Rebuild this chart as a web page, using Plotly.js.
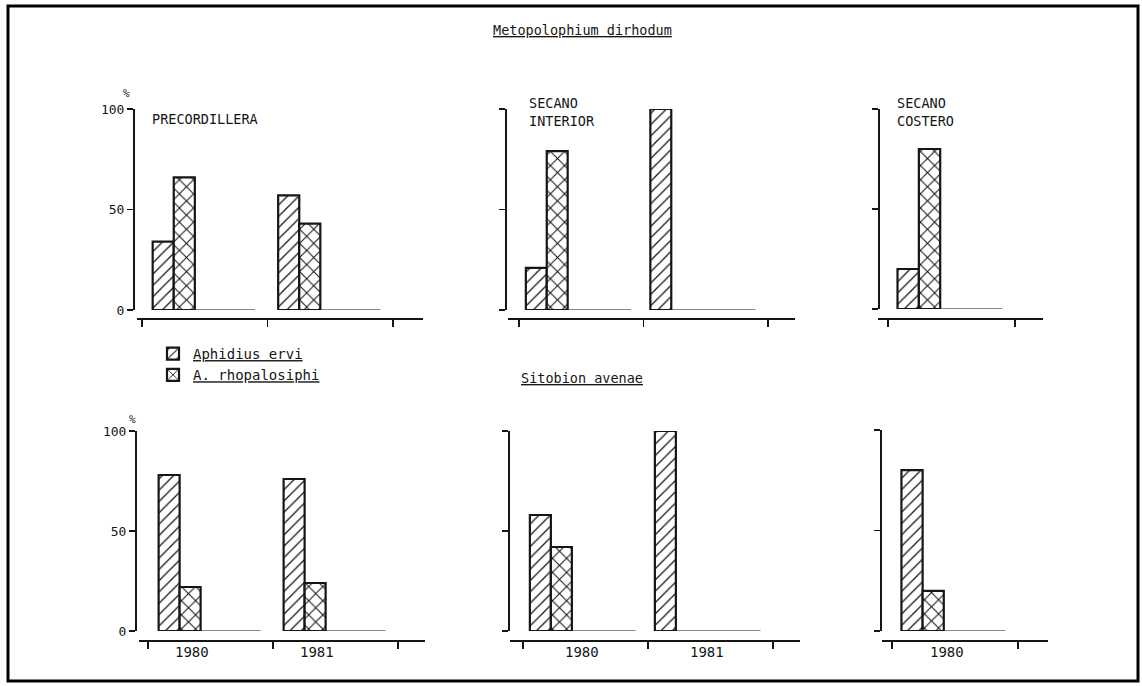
<!DOCTYPE html>
<html>
<head>
<meta charset="utf-8">
<script src="https://cdn.plot.ly/plotly-3.0.1.min.js"></script>
<style>html,body{margin:0;padding:0;background:#fff;}#chart{width:1142px;height:686px;}</style>
</head>
<body>
<div id="chart"></div>
<script>
// ---- data ----
const aphids = ['Metopolophium dirhodum', 'Sitobion avenae'];
const species = ['Aphidius ervi', 'A. rhopalosiphi'];
const regions = ['PRECORDILLERA', 'SECANO INTERIOR', 'SECANO COSTERO'];
const regionYears = [['1980', '1981'], ['1980', '1981'], ['1980']];
const dirhodumErvi = [[34, 57], [21, 100], [20]];
const dirhodumRhopalosiphi = [[66, 43], [79, 0], [80]];
const avenaeErvi = [[78, 76], [58, 100], [80]];
const avenaeRhopalosiphi = [[22, 24], [42, 0], [20]];
const yTicks = [0, 50, 100];
const yTickLabels = ['0', '50', '100'];

// ---- styling / geometry ----
const W = 1142, H = 686;
const px = x => x / W;
const py = y => 1 - y / H;
const FONT = 'DejaVu Sans Mono, monospace';
const INK = '#161616';

const geom = [
  {a: 137, b: 423, t0: 142, s: 125.5, yAx: 133, yTop: 109, yBot: 310, xAxY: 318},
  {a: 508, b: 795, t0: 519, s: 124.5, yAx: 505, yTop: 109, yBot: 310, xAxY: 318},
  {a: 878, b: 1043, t0: 888, s: 127, yAx: 878, yTop: 109, yBot: 309, xAxY: 318},
  {a: 139, b: 425, t0: 148, s: 125, yAx: 135, yTop: 431, yBot: 631, xAxY: 640},
  {a: 510, b: 800, t0: 523, s: 125, yAx: 508, yTop: 431, yBot: 631, xAxY: 640},
  {a: 882, b: 1048, t0: 892, s: 126, yAx: 880, yTop: 430, yBot: 631, xAxY: 640}
];
const barOffset = [0.085, 0.055, 0.075];
const barWidth = 0.168;
const baseEnd = 0.9;
const yearLabelOffset = [0.35, 0.47, 0.44];

const patterns = [
  {shape: '/', fgcolor: INK, bgcolor: '#fff', size: 8, solidity: 0.16},
  {shape: 'x', fgcolor: INK, bgcolor: '#fff', size: 10, solidity: 0.2}
];

const traces = [];
const layout = {
  width: W, height: H,
  margin: {l: 0, r: 0, t: 0, b: 0},
  paper_bgcolor: '#fff', plot_bgcolor: 'rgba(0,0,0,0)',
  barmode: 'overlay',
  showlegend: true,
  legend: {
    x: px(153), y: py(338), xanchor: 'left', yanchor: 'top',
    bgcolor: 'rgba(0,0,0,0)', borderwidth: 0, tracegroupgap: 0,
    font: {family: FONT, size: 14, color: INK, lineposition: 'under'},
    traceorder: 'normal'
  },
  annotations: [],
  shapes: [{
    type: 'rect', xref: 'paper', yref: 'paper',
    x0: px(8), x1: px(1138), y0: py(6), y1: py(681),
    line: {color: '#000', width: 3}
  }]
};

const seriesByAphid = [
  [dirhodumErvi, dirhodumRhopalosiphi],
  [avenaeErvi, avenaeRhopalosiphi]
];

for (let row = 0; row < 2; row++) {
  for (let col = 0; col < 3; col++) {
    const k = row * 3 + col;
    const g = geom[k];
    const xn = k === 0 ? 'x' : 'x' + (k + 1);
    const yn = k === 0 ? 'y' : 'y' + (k + 1);
    const years = regionYears[col];
    const groups = years.map((_, i) => i);
    const off = barOffset[col];

    seriesByAphid[row].forEach((series, si) => {
      const vals = series[col];
      traces.push({
        type: 'bar', name: species[si],
        x: groups, y: vals,
        offset: off + si * barWidth, width: barWidth,
        xaxis: xn, yaxis: yn,
        marker: {color: '#fff', pattern: patterns[si],
                 line: {color: INK, width: vals.map(v => v === 0 ? 0 : 2.2)}},
        cliponaxis: false,
        showlegend: k === 0,
        legendgroup: species[si],
        hoverinfo: 'skip'
      });
    });
    const bx = [], by = [];
    groups.forEach(i => { bx.push(i + off, i + baseEnd, null); by.push(0, 0, null); });
    traces.push({
      type: 'scatter', mode: 'lines', x: bx, y: by,
      xaxis: xn, yaxis: yn, line: {color: INK, width: 1.2},
      cliponaxis: false, showlegend: false, hoverinfo: 'skip'
    });

    const nTicks = years.length + 1;
    const tv = Array.from({length: nTicks}, (_, i) => i);
    layout['xaxis' + (k === 0 ? '' : k + 1)] = {
      domain: [px(g.a), px(g.b)],
      range: [(g.a - g.t0) / g.s, (g.b - g.t0) / g.s],
      anchor: 'free', position: py(g.xAxY),
      showline: true, linecolor: INK, linewidth: 1.5,
      tickmode: 'array', tickvals: tv, ticktext: tv.map(() => ''),
      ticks: 'outside', ticklen: 7, tickwidth: 1.3, tickcolor: INK,
      showgrid: false, zeroline: false, fixedrange: true
    };
    layout['yaxis' + (k === 0 ? '' : k + 1)] = {
      domain: [py(g.yBot), py(g.yTop)],
      range: [0, 100],
      anchor: 'free', position: px(g.yAx),
      showline: true, linecolor: INK, linewidth: 1.5,
      tickmode: 'array', tickvals: yTicks, ticktext: yTickLabels,
      showticklabels: col === 0,
      ticks: 'outside', ticklen: 6, tickwidth: 1.3, tickcolor: INK,
      tickfont: {family: FONT, size: 13, color: INK},
      showgrid: false, zeroline: false, fixedrange: true
    };

    if (row === 1) {
      years.forEach((yr, i) => {
        layout.annotations.push({
          xref: xn, yref: 'paper', x: i + yearLabelOffset[col], y: py(652),
          text: yr, showarrow: false, xanchor: 'center', yanchor: 'middle',
          font: {family: FONT, size: 14, color: INK}
        });
      });
    }
    if (col === 0) {
      layout.annotations.push({
        xref: 'paper', yref: 'paper', x: px(row === 0 ? 126 : 132), y: py(row === 0 ? 94 : 419),
        text: '%', showarrow: false, xanchor: 'center', yanchor: 'middle',
        font: {family: FONT, size: 11, color: INK}
      });
    }
  }
}

const regionLabelPos = [[150, 119], [527, 112], [895, 112]];
regions.forEach((r, i) => {
  layout.annotations.push({
    xref: 'paper', yref: 'paper', x: px(regionLabelPos[i][0]), y: py(regionLabelPos[i][1]),
    text: r.split(' ').join('<br>'), showarrow: false, xanchor: 'left', yanchor: 'middle', align: 'left',
    font: {family: FONT, size: 13.5, color: INK}
  });
});

const aphidTitleY = [30, 378];
aphids.forEach((a, i) => {
  layout.annotations.push({
    xref: 'paper', yref: 'paper', x: px(582), y: py(aphidTitleY[i]),
    text: a, showarrow: false, xanchor: 'center', yanchor: 'middle',
    font: {family: FONT, size: 13.5, color: INK, lineposition: 'under'}
  });
});

Plotly.newPlot('chart', traces, layout, {displayModeBar: false, staticPlot: true});
</script>
</body>
</html>
